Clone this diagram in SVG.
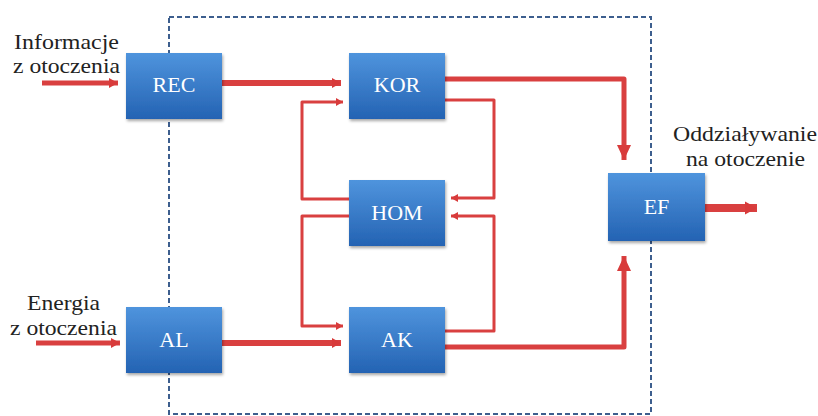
<svg xmlns="http://www.w3.org/2000/svg" width="818" height="416" viewBox="0 0 818 416">
<defs>
<linearGradient id="bg" x1="0" y1="0" x2="0" y2="1">
<stop offset="0" stop-color="#4f94dd"/>
<stop offset="1" stop-color="#2463b3"/>
</linearGradient>
<filter id="sh" x="-10%" y="-10%" width="125%" height="130%">
<feDropShadow dx="1" dy="2" stdDeviation="1.5" flood-color="#000" flood-opacity="0.35"/>
</filter>
<marker id="hs" markerUnits="userSpaceOnUse" markerWidth="10" markerHeight="12" refX="9" refY="6" orient="auto">
<path d="M0,1 L9,6 L0,11 Z" fill="#d83b3b"/>
</marker>
<marker id="ht" markerUnits="userSpaceOnUse" markerWidth="8" markerHeight="10" refX="7" refY="5" orient="auto">
<path d="M0,1 L7,5 L0,9 Z" fill="#d83b3b"/>
</marker>
<marker id="hb" markerUnits="userSpaceOnUse" markerWidth="16" markerHeight="16" refX="15" refY="8" orient="auto">
<path d="M0,1 L15,8 L0,15 Z" fill="#d83b3b"/>
</marker>
<marker id="ho" markerUnits="userSpaceOnUse" markerWidth="13" markerHeight="16" refX="12" refY="8" orient="auto">
<path d="M0,1.5 L12,8 L0,14.5 Z" fill="#d83b3b"/>
</marker>
</defs>
<style>
.box{fill:url(#bg);filter:url(#sh);}
.bl{font-size:22px;fill:#fff;text-anchor:middle;}
.tx{font-size:22px;fill:#222;}
.thick{fill:none;stroke:#d94040;stroke-width:6;}
.mid{fill:none;stroke:#d94040;stroke-width:5;}
.thin{fill:none;stroke:#d94040;stroke-width:3;}
.dash{fill:none;stroke:#3d5e8e;stroke-width:2;stroke-dasharray:5 3;}
</style>
<rect class="dash" x="169" y="17" width="482" height="397"/>
<g id="connectors">
<path class="mid" d="M42,83 H118" marker-end="url(#hs)"/>
<path class="thick" d="M222,83 H341" marker-end="url(#hs)"/>
<path class="mid" d="M445,79 H624 V160" marker-end="url(#hb)" stroke-linejoin="round"/>
<path class="thin" d="M445,100 H494 V198 H451" marker-end="url(#ht)" stroke-linejoin="round"/>
<path class="thin" d="M349,199 H302 V102 H343" marker-end="url(#ht)" stroke-linejoin="round"/>
<path class="thin" d="M349,216 H302 V326 H343" marker-end="url(#ht)" stroke-linejoin="round"/>
<path class="thin" d="M445,331 H494 V216 H451" marker-end="url(#ht)" stroke-linejoin="round"/>
<path class="mid" d="M36,343 H120" marker-end="url(#hs)"/>
<path class="thick" d="M222,343 H341" marker-end="url(#hs)"/>
<path class="mid" d="M445,347 H624 V256" marker-end="url(#hb)" stroke-linejoin="round"/>
<path class="thick" style="stroke-width:8" d="M705,208 H757" marker-end="url(#ho)"/>
</g>
<g font-family="'Liberation Serif', 'DejaVu Serif', serif">
<g id="REC"><rect class="box" x="126" y="53" width="96" height="66"/><text class="bl" x="174" y="92">REC</text></g>
<g id="KOR"><rect class="box" x="349" y="53" width="96" height="66"/><text class="bl" x="397" y="92">KOR</text></g>
<g id="HOM"><rect class="box" x="349" y="180" width="96" height="66"/><text class="bl" x="397" y="220">HOM</text></g>
<g id="AL"><rect class="box" x="126" y="307" width="96" height="66"/><text class="bl" x="174" y="347">AL</text></g>
<g id="AK"><rect class="box" x="349" y="307" width="96" height="66"/><text class="bl" x="397" y="347">AK</text></g>
<g id="EF"><rect class="box" x="608" y="173" width="97" height="68"/><text class="bl" x="656.5" y="214">EF</text></g>
<g id="labels">
<text class="tx" x="14" y="49" textLength="105" lengthAdjust="spacingAndGlyphs">Informacje</text>
<text class="tx" x="13" y="73" textLength="107" lengthAdjust="spacingAndGlyphs">z otoczenia</text>
<text class="tx" x="27" y="310" textLength="73" lengthAdjust="spacingAndGlyphs">Energia</text>
<text class="tx" x="10" y="335" textLength="107" lengthAdjust="spacingAndGlyphs">z otoczenia</text>
<text class="tx" x="673" y="141" textLength="144" lengthAdjust="spacingAndGlyphs">Oddziaływanie</text>
<text class="tx" x="686" y="166" textLength="119" lengthAdjust="spacingAndGlyphs">na otoczenie</text>
</g>
</g>
</svg>
